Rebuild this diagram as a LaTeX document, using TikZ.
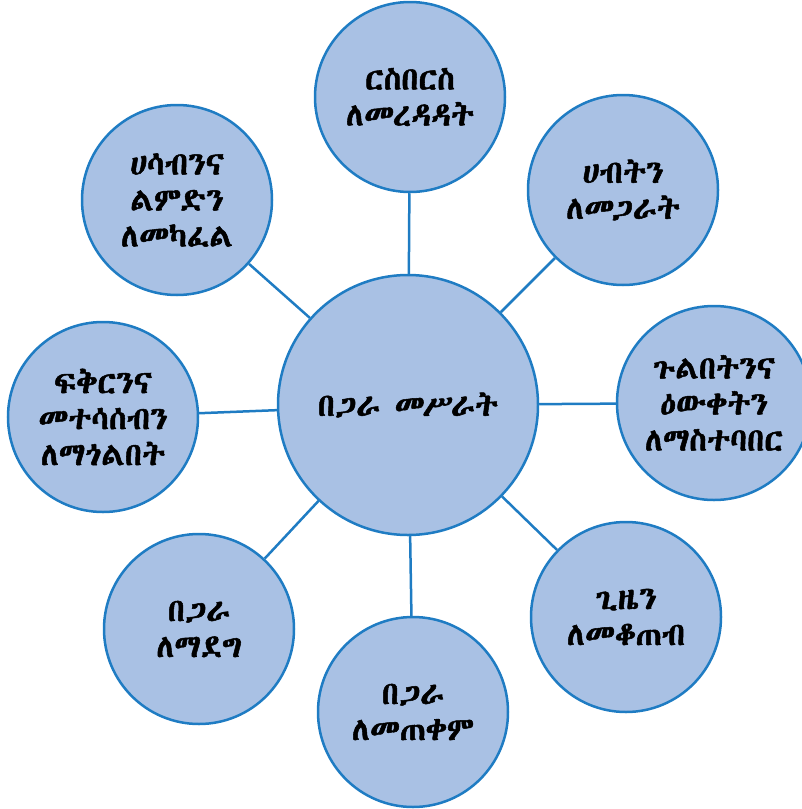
\documentclass[tikz,border=0pt]{standalone}
\usepackage{fontspec}
\IfFontExistsTF{Abyssinica SIL}{\newfontfamily\ethfont[Script=Ethiopic,FakeBold=1.6]{Abyssinica SIL}}{%
\IfFontExistsTF{Noto Sans Ethiopic}{\newfontfamily\ethfont[Script=Ethiopic]{Noto Sans Ethiopic}}{%
\newfontfamily\ethfont{FreeSerif}}}
\definecolor{cfill}{HTML}{A9C1E4}
\definecolor{cline}{HTML}{1F7CC3}
\begin{document}
\begin{tikzpicture}[x=1pt,y=-1pt,
  bub/.style={circle,draw=cline,fill=cfill,line width=2.5pt,inner sep=0pt,
    minimum size=190pt,align=center,font=\ethfont\fontsize{32}{36}\selectfont},
  conn/.style={draw=cline,line width=2.5pt}]
\useasboundingbox (0,0) rectangle (802,809);
\clip (0,0) rectangle (802,809);
\node[bub,minimum size=260pt] (C) at (408,405) {በጋራ መሥራት};
\node[bub] (T) at (410,97) {ርስበርስ\\ለመረዳዳት};
\node[bub] (TL) at (177,200) {ሀሳብንና\\ልምድን\\ለመካፈል};
\node[bub] (TR) at (623,190) {ሀብትን\\ለመጋራት};
\node[bub] (L) at (103,417) {ፍቅርንና\\መተሳሰብን\\ለማጎልበት};
\node[bub,minimum size=194pt] (R) at (714,403) {ጉልበትንና\\ዕውቀትን\\ለማስተባበር};
\node[bub] (BL) at (199,629) {በጋራ\\ለማደግ};
\node[bub] (BR) at (626,617) {ጊዜን\\ለመቆጠብ};
\node[bub] (B) at (413,712) {በጋራ\\ለመጠቀም};
\foreach \n in {T,TL,TR,L,R,BL,BR,B} \draw[conn] (C) -- (\n);
\end{tikzpicture}
\end{document}
